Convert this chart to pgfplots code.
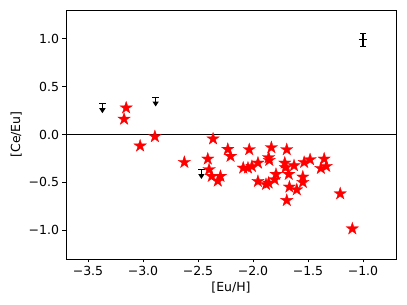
\documentclass[border=0pt]{standalone}
\usepackage{fontspec}
\setmainfont{DejaVu Sans}
\usepackage{pgfplots}
\usepackage{pgfplotstable}
\pgfplotsset{compat=1.18}
\usetikzlibrary{arrows.meta}

\pgfdeclareplotmark{fstar}{%
  \pgfpathmoveto{\pgfpointpolar{90}{\pgfplotmarksize}}%
  \pgfpathlineto{\pgfpointpolar{126}{0.382\pgfplotmarksize}}%
  \pgfpathlineto{\pgfpointpolar{162}{\pgfplotmarksize}}%
  \pgfpathlineto{\pgfpointpolar{198}{0.382\pgfplotmarksize}}%
  \pgfpathlineto{\pgfpointpolar{234}{\pgfplotmarksize}}%
  \pgfpathlineto{\pgfpointpolar{270}{0.382\pgfplotmarksize}}%
  \pgfpathlineto{\pgfpointpolar{306}{\pgfplotmarksize}}%
  \pgfpathlineto{\pgfpointpolar{342}{0.382\pgfplotmarksize}}%
  \pgfpathlineto{\pgfpointpolar{18}{\pgfplotmarksize}}%
  \pgfpathlineto{\pgfpointpolar{54}{0.382\pgfplotmarksize}}%
  \pgfpathclose
  \pgfusepathqfillstroke
}

\pgfplotstableread{
x y
-3.153 0.279
-3.172 0.161
-3.026 -0.119
-2.892 -0.021
-2.624 -0.290
-2.363 -0.045
-2.411 -0.255
-2.399 -0.366
-2.375 -0.436
-2.320 -0.485
-2.296 -0.436
-2.229 -0.154
-2.204 -0.227
-2.034 -0.157
-2.089 -0.349
-2.046 -0.349
-2.010 -0.332
-1.955 -0.297
-1.955 -0.489
-1.882 -0.520
-1.858 -0.506
-1.833 -0.136
-1.858 -0.241
-1.852 -0.269
-1.791 -0.415
-1.803 -0.471
-1.693 -0.157
-1.711 -0.297
-1.705 -0.346
-1.675 -0.415
-1.669 -0.548
-1.693 -0.688
-1.627 -0.325
-1.602 -0.576
-1.547 -0.443
-1.547 -0.499
-1.535 -0.290
-1.481 -0.262
-1.353 -0.255
-1.383 -0.353
-1.334 -0.332
-1.207 -0.618
-1.097 -0.984
}\stars

\pgfplotstableread{
x y v
-3.369 0.320 -0.098
-2.885 0.389 -0.097
-2.469 -0.368 -0.097
}\limits

\begin{document}
\begin{tikzpicture}
\useasboundingbox (-66pt,-46pt) rectangle (341pt,259pt);
\begin{axis}[
  scale only axis, width=330pt, height=249pt,
  xmin=-3.70, xmax=-0.70, ymin=-1.30, ymax=1.30,
  xtick={-3.5,-3.0,-2.5,-2.0,-1.5,-1.0},
  xticklabels={−3.5,−3.0,−2.5,−2.0,−1.5,−1.0},
  ytick={-1.0,-0.5,0.0,0.5,1.0},
  yticklabels={−1.0,−0.5,0.0,0.5,1.0},
  xtick pos=bottom, ytick pos=left,
  tick align=outside, major tick length=3.5pt,
  tick style={black, line width=0.8pt},
  axis line style={line width=0.8pt},
  ticklabel style={font=\fontsize{12.5}{14}\selectfont},
  label style={font=\fontsize{12.5}{14}\selectfont},
  xlabel={[Eu/H]}, ylabel={[Ce/Eu]},
]
\addplot[black, line width=1.2pt] coordinates {(-3.70,0) (-0.70,0)};
\addplot[black, line width=1.2pt, quiver={u=0, v=\thisrow{v}}, -{Triangle[length=5pt,width=6pt]}] table[x=x,y=y] {\limits};
\addplot[black, only marks, mark=-, mark size=3.2pt, mark options={line width=1.2pt}] table[x=x,y=y] {\limits};
\addplot[black, line width=1.2pt] coordinates {(-1.04,0.99) (-0.96,0.99)};
\addplot[black, line width=1.2pt] coordinates {(-1.0,1.058) (-1.0,0.922)};
\addplot[black, only marks, mark=-, mark size=3pt, mark options={line width=1.2pt}] coordinates {(-1.0,1.058) (-1.0,0.922)};
\addplot[only marks, mark=fstar, mark size=6.5pt, mark options={fill=red, draw=red, line width=0.3pt}] table[x=x,y=y] {\stars};
\end{axis}
\end{tikzpicture}
\end{document}
